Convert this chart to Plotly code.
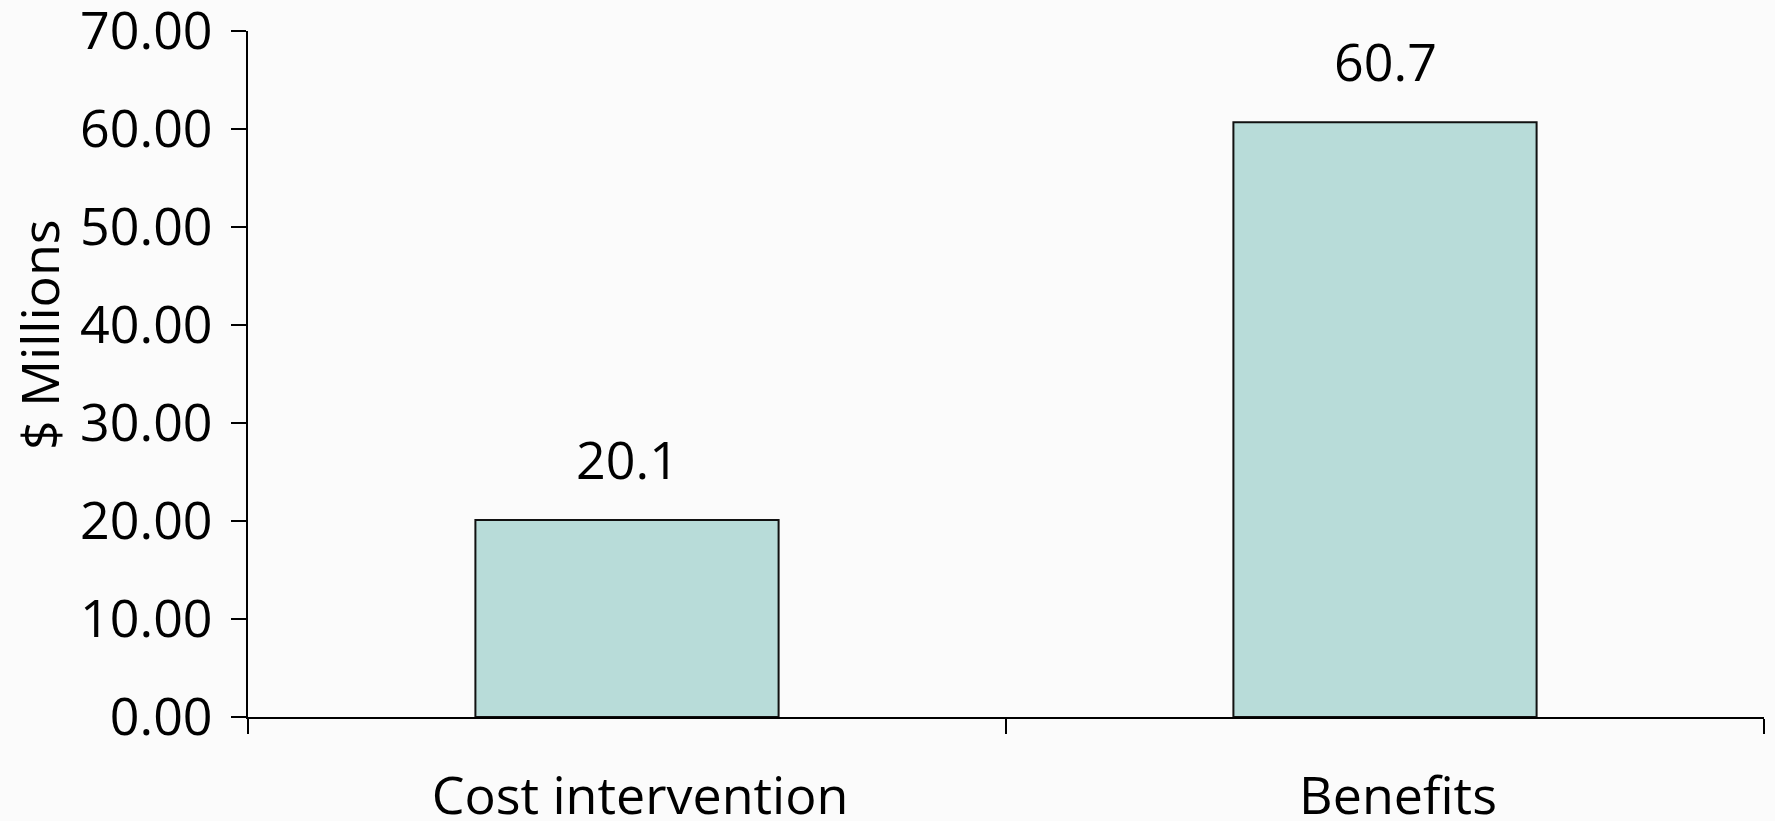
import plotly.graph_objects as go

# Cost of the intervention versus the benefits it produced, in $ millions
categories = ["Cost intervention", "Benefits"]
values = [20.1, 60.7]
y_ticks = [0, 10, 20, 30, 40, 50, 60, 70]
y_tick_labels = ["0.00", "10.00", "20.00", "30.00", "40.00", "50.00", "60.00", "70.00"]

FONT = "Open Sans"
SIZE = 52
BAR_FILL = "#b8dcd9"
BG = "#fbfbfb"

fig = go.Figure()
fig.add_trace(go.Bar(
    x=categories,
    y=values,
    width=0.4,
    marker=dict(color=BAR_FILL, line=dict(color="#111111", width=2)),
    hoverinfo="x+y",
))

# value labels above each bar
for cat, val in zip(categories, values):
    fig.add_annotation(
        x=cat, y=val, xref="x", yref="y",
        text=f"{val}", showarrow=False,
        yanchor="bottom", yshift=24,
        font=dict(family=FONT, size=SIZE, color="#000000"),
    )

# rotated y-axis title
fig.add_annotation(
    xref="paper", yref="paper", x=0, y=0.557,
    xshift=-209, xanchor="center", yanchor="middle",
    text="$ Millions", textangle=-90, showarrow=False,
    font=dict(family=FONT, size=SIZE, color="#000000"),
)

fig.update_layout(
    width=1775, height=821,
    margin=dict(l=248, r=11, t=31, b=104),
    paper_bgcolor=BG, plot_bgcolor=BG,
    showlegend=False,
    font=dict(family=FONT, size=SIZE, color="#000000"),
)

fig.update_xaxes(
    type="category",
    range=[-0.5, 1.5],
    automargin=False,
    showline=True, linecolor="#000000", linewidth=2,
    ticks="outside", ticklen=15, tickwidth=2, tickcolor="#000000",
    tickson="boundaries",
    ticklabelstandoff=33, ticklabelshift=13,
    ticklabeloverflow="allow",
    showgrid=False, zeroline=False,
    tickfont=dict(family=FONT, size=SIZE, color="#000000"),
)

fig.update_yaxes(
    range=[0, 70],
    automargin=False,
    tickvals=y_ticks, ticktext=y_tick_labels,
    showline=True, linecolor="#000000", linewidth=2,
    ticks="outside", ticklen=15, tickwidth=2, tickcolor="#000000",
    ticklabelstandoff=8,
    ticklabeloverflow="allow",
    showgrid=False, zeroline=False,
    tickfont=dict(family=FONT, size=SIZE, color="#000000"),
)

fig.write_html("out.html")
